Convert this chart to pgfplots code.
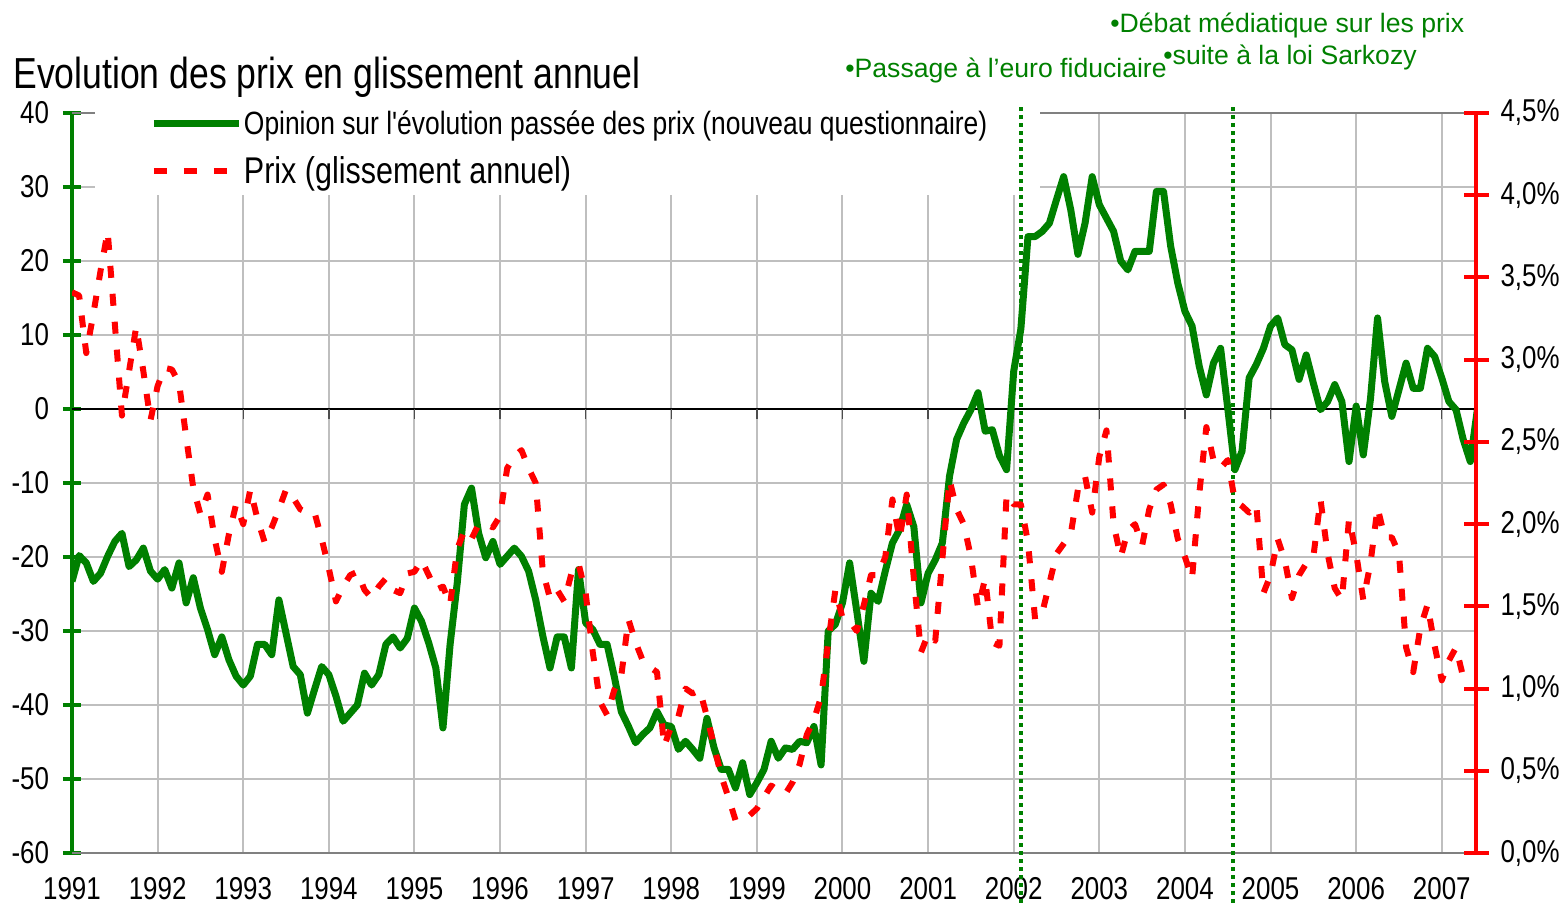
\documentclass[border=0pt]{standalone}
\usepackage{fontspec}
\setmainfont{Liberation Sans}
\newfontfamily\narrow{Liberation Sans}[FakeStretch=0.82]
\usepackage{pgfplots}
\pgfplotsset{compat=1.18}
\definecolor{xlgreen}{RGB}{0,128,0}
\definecolor{xlred}{RGB}{255,0,0}
\newcommand{\tickfont}{\narrow\fontsize{15.8bp}{16bp}\selectfont}
\begin{document}
\begin{tikzpicture}
\useasboundingbox (-36bp,-25bp) rectangle (747.5bp,426.5bp);
\begin{axis}[
  at={(0bp,0bp)}, anchor=south west,
  scale only axis, width=702bp, height=370bp,
  xmin=0, xmax=196.8, ymin=-60, ymax=40,
  clip mode=individual,
  axis y line*=left, axis x line*=bottom,
  x axis line style={draw=none},
  y axis line style={xlgreen, line width=2bp},
  xtick={0,12,24,36,48,60,72,84,96,108,120,132,144,156,168,180,192},
  xticklabels={1991,1992,1993,1994,1995,1996,1997,1998,1999,2000,2001,2002,2003,2004,2005,2006,2007},
  ytick={-60,-50,-40,-30,-20,-10,0,10,20,30,40},
  yticklabels={-60,-50,-40,-30,-20,-10,0,10,20,30,40},
  xtick style={draw=none},
  ytick style={xlgreen, line width=2bp},
  tick align=center, major tick length=9bp,
  tick label style={font=\tickfont},
  xticklabel style={yshift=-4bp},
  yticklabel style={xshift=-3.5bp},
  xmajorgrids, ymajorgrids,
  grid style={black!25, line width=1bp},
  legend style={at={(rel axis cs:0.0591,1)}, anchor=north west, xshift=-2.5bp, yshift=3.5bp,
     draw=none, fill=none, inner sep=0pt, font=\narrow, row sep=5.5bp, legend cell align=left,
     nodes={inner xsep=0.8bp}},
  legend image code/.code={\draw[#1] (0bp,0bp) -- (42.5bp,0bp);},
]
\draw[gray, line width=1bp] (axis cs:0,40) -- (axis cs:196.8,40);
\draw[gray, line width=1bp] (axis cs:0,-60) -- (axis cs:196.8,-60);
\fill[white] (axis cs:3.22,28.92) rectangle (axis cs:135.7,41);
\draw[black, line width=0.7bp] (axis cs:0,0) -- (axis cs:196.8,0);
\pgfplotsinvokeforeach{12,24,36,48,60,72,84,96,108,120,132,144,156,168,180,192}{
  \draw[black!70, line width=0.7bp] (axis cs:#1,0) -- ++(0bp,-5bp);
}
\draw[xlgreen, line width=2bp, dash pattern=on 2bp off 2bp] (axis cs:133.0,40.8) -- (axis cs:133.0,-66.8);
\draw[xlgreen, line width=2bp, dash pattern=on 2bp off 2bp] (axis cs:162.7,40.8) -- (axis cs:162.7,-66.8);
\addplot[xlgreen, line width=3.5bp, line join=round] coordinates {
(0,-23.3)(1,-19.8)(2,-20.8)(3,-23.3)(4,-22.2)(5,-19.9)(6,-17.9)(7,-16.8)(8,-21.3)(9,-20.4)(10,-18.8)(11,-21.9)
(12,-23.0)(13,-21.7)(14,-24.2)(15,-20.8)(16,-26.2)(17,-22.8)(18,-26.9)(19,-29.8)(20,-33.2)(21,-30.8)(22,-33.9)(23,-36.1)
(24,-37.3)(25,-36.1)(26,-31.8)(27,-31.8)(28,-33.2)(29,-25.8)(30,-30.3)(31,-34.8)(32,-35.9)(33,-41.1)(34,-37.9)(35,-34.8)
(36,-35.9)(37,-38.8)(38,-42.2)(39,-41.1)(40,-40.0)(41,-35.7)(42,-37.3)(43,-35.9)(44,-31.8)(45,-30.8)(46,-32.3)(47,-31.0)
(48,-26.9)(49,-28.7)(50,-31.6)(51,-35.0)(52,-43.1)(53,-31.8)(54,-23.5)(55,-12.9)(56,-10.7)(57,-16.8)(58,-20.1)(59,-17.9)
(60,-21.0)(61,-19.9)(62,-18.8)(63,-19.9)(64,-21.9)(65,-25.8)(66,-30.7)(67,-35.0)(68,-30.8)(69,-30.8)(70,-35.0)(71,-21.7)
(72,-28.9)(73,-29.8)(74,-31.8)(75,-31.8)(76,-36.1)(77,-40.9)(78,-42.9)(79,-45.1)(80,-44.0)(81,-43.1)(82,-40.9)(83,-42.7)
(84,-42.9)(85,-46.0)(86,-44.9)(87,-46.0)(88,-47.2)(89,-41.8)(90,-45.8)(91,-48.7)(92,-48.7)(93,-51.2)(94,-47.8)(95,-52.1)
(96,-50.5)(97,-48.7)(98,-44.9)(99,-47.2)(100,-45.8)(101,-46.0)(102,-44.9)(103,-45.1)(104,-42.9)(105,-48.1)(106,-30.0)(107,-29.1)
(108,-26.2)(109,-20.8)(110,-27.3)(111,-34.1)(112,-24.9)(113,-26.0)(114,-21.9)(115,-18.1)(116,-16.3)(117,-12.9)(118,-15.9)(119,-26.2)
(120,-22.2)(121,-20.4)(122,-18.1)(123,-9.1)(124,-4.1)(125,-1.9)(126,-0.1)(127,2.2)(128,-3.0)(129,-2.8)(130,-6.3)(131,-8.2)
(132,5.1)(133,10.8)(134,23.3)(135,23.3)(136,24.0)(137,25.1)(138,28.3)(139,31.4)(140,26.9)(141,20.9)(142,25.1)(143,31.4)
(144,27.6)(145,25.8)(146,24.0)(147,20.0)(148,18.8)(149,21.3)(150,21.3)(151,21.3)(152,29.4)(153,29.4)(154,22.0)(155,17.0)
(156,13.2)(157,11.2)(158,5.8)(159,1.9)(160,6.2)(161,8.2)(162,0.1)(163,-8.2)(164,-5.7)(165,4.2)(166,6.0)(167,8.2)
(168,11.2)(169,12.3)(170,8.7)(171,8.0)(172,4.0)(173,7.3)(174,3.5)(175,-0.1)(176,1.0)(177,3.3)(178,1.0)(179,-7.1)
(180,0.4)(181,-6.2)(182,1.3)(183,12.3)(184,3.7)(185,-1.0)(186,2.6)(187,6.2)(188,2.8)(189,2.8)(190,8.2)(191,7.1)
(192,4.2)(193,1.0)(194,-0.1)(195,-4.1)(196,-7.1)(197,0.0)
};
\addlegendentry{\fontsize{16.1bp}{18bp}\selectfont Opinion sur l{\char"0027}évolution passée des prix (nouveau questionnaire)}
\addlegendimage{xlred, line width=3bp, dash pattern=on 6.5bp off 8.5bp}
\addlegendentry{\fontsize{18.6bp}{20bp}\selectfont Prix (glissement annuel)}
\end{axis}
\begin{axis}[
  at={(0bp,0bp)}, anchor=south west,
  scale only axis, width=702bp, height=370bp,
  xmin=0, xmax=196.8, ymin=0, ymax=4.5,
  axis y line*=right, axis x line=none,
  y axis line style={xlred, line width=2bp},
  ytick={0,0.5,1,1.5,2,2.5,3,3.5,4,4.5},
  yticklabels={{0,0\%},{0,5\%},{1,0\%},{1,5\%},{2,0\%},{2,5\%},{3,0\%},{3,5\%},{4,0\%},{4,5\%}},
  ytick style={xlred, line width=2bp},
  tick align=center, major tick length=12.5bp,
  tick label style={font=\tickfont},
  yticklabel style={xshift=2.5bp},
]
\addplot[xlred, line width=3bp, line join=round, dash pattern=on 6bp off 8bp] coordinates {
(0,3.41)(1,3.39)(2,3.04)(3,3.28)(4,3.54)(5,3.78)(6,3.22)(7,2.66)(8,2.93)(9,3.20)(10,2.93)(11,2.63)
(12,2.84)(13,2.95)(14,2.94)(15,2.86)(16,2.53)(17,2.22)(18,2.06)(19,2.18)(20,1.91)(21,1.71)(22,1.94)(23,2.12)
(24,2.00)(25,2.21)(26,2.03)(27,1.89)(28,1.98)(29,2.09)(30,2.21)(31,2.16)(32,2.09)(33,2.07)(34,2.07)(35,1.91)
(36,1.73)(37,1.53)(38,1.62)(39,1.69)(40,1.71)(41,1.60)(42,1.55)(43,1.62)(44,1.67)(45,1.60)(46,1.58)(47,1.70)
(48,1.71)(49,1.78)(50,1.69)(51,1.60)(52,1.62)(53,1.51)(54,1.85)(55,1.96)(56,1.91)(57,2.00)(58,2.00)(59,1.98)
(60,2.05)(61,2.34)(62,2.41)(63,2.45)(64,2.34)(65,2.25)(66,1.71)(67,1.55)(68,1.60)(69,1.53)(70,1.70)(71,1.76)
(72,1.58)(73,1.22)(74,0.92)(75,0.84)(76,0.99)(77,1.08)(78,1.42)(79,1.28)(80,1.17)(81,1.13)(82,1.10)(83,0.65)
(84,0.77)(85,0.83)(86,1.00)(87,0.97)(88,0.99)(89,0.83)(90,0.65)(91,0.47)(92,0.34)(93,0.20)(94,0.20)(95,0.23)
(96,0.27)(97,0.34)(98,0.41)(99,0.38)(100,0.36)(101,0.43)(102,0.54)(103,0.72)(104,0.81)(105,0.95)(106,1.28)(107,1.60)
(108,1.43)(109,1.41)(110,1.35)(111,1.51)(112,1.69)(113,1.69)(114,1.80)(115,2.15)(116,1.91)(117,2.18)(118,1.67)(119,1.22)
(120,1.33)(121,1.29)(122,1.79)(123,2.27)(124,2.09)(125,2.00)(126,1.80)(127,1.49)(128,1.67)(129,1.28)(130,1.26)(131,2.18)
(132,2.12)(133,2.12)(134,1.89)(135,1.42)(136,1.46)(137,1.64)(138,1.82)(139,1.88)(140,1.94)(141,2.21)(142,2.29)(143,2.07)
(144,2.41)(145,2.57)(146,2.00)(147,1.80)(148,1.96)(149,2.00)(150,1.87)(151,2.09)(152,2.21)(153,2.24)(154,2.12)(155,1.91)
(156,1.80)(157,1.67)(158,2.18)(159,2.59)(160,2.39)(161,2.34)(162,2.39)(163,2.14)(164,2.11)(165,2.07)(166,2.12)(167,1.58)
(168,1.69)(169,1.91)(170,1.78)(171,1.55)(172,1.69)(173,1.76)(174,1.80)(175,2.15)(176,1.82)(177,1.61)(178,1.54)(179,2.03)
(180,1.82)(181,1.54)(182,1.76)(183,2.10)(184,1.92)(185,1.92)(186,1.82)(187,1.25)(188,1.10)(189,1.37)(190,1.51)(191,1.26)
(192,1.05)(193,1.17)(194,1.25)(195,1.07)(196,1.04)
};
\end{axis}
\node[anchor=base west, inner sep=0pt] at (-29.5bp,382.2bp) {\narrow\fontsize{21.7bp}{24bp}\selectfont Evolution des prix en glissement annuel};
\node[anchor=base west, inner sep=0pt, text=xlgreen] at (386.5bp,387.5bp) {\fontsize{13.3bp}{15bp}\selectfont •Passage à l’euro fiduciaire};
\node[anchor=base west, inner sep=0pt, text=xlgreen] at (519bp,410bp) {\fontsize{13.3bp}{15bp}\selectfont •Débat médiatique sur les prix};
\node[anchor=base west, inner sep=0pt, text=xlgreen] at (545.5bp,394bp) {\fontsize{13.3bp}{15bp}\selectfont •suite à la loi Sarkozy};
\end{tikzpicture}
\end{document}
